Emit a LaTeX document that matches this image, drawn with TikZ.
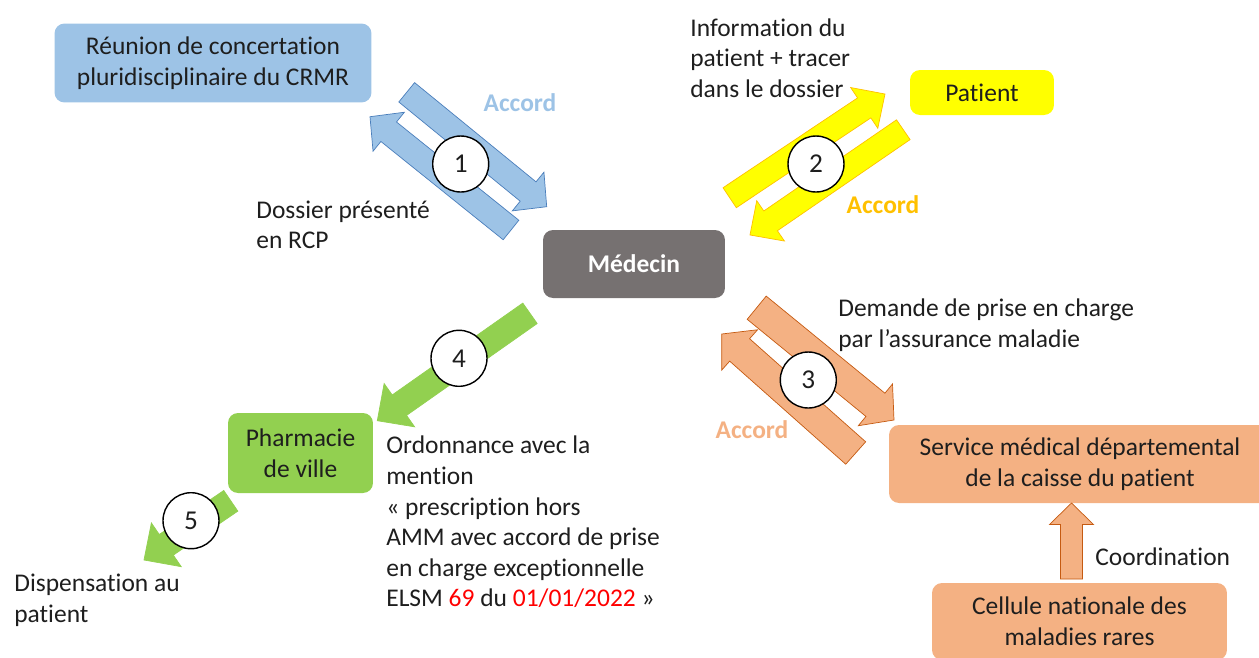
\documentclass[tikz,border=0pt]{standalone}
\usepackage{fontspec}
\setmainfont[Ligatures=NoCommon]{Carlito}
\usepackage{tikz}
\usetikzlibrary{calc,positioning}

\definecolor{bleu}{HTML}{9DC3E6}
\definecolor{bleufonce}{HTML}{4A7EBB}
\definecolor{jaune}{HTML}{FFFF00}
\definecolor{jaunefonce}{HTML}{FFC000}
\definecolor{orange}{HTML}{F4B183}
\definecolor{orangefonce}{HTML}{C55A11}
\definecolor{vert}{HTML}{92D050}
\definecolor{gris}{HTML}{767171}
\definecolor{rouge}{HTML}{FF0000}
\definecolor{texte}{HTML}{1E1E1E}

% block arrow: style, tail, tip, half shaft, half head, head length
\newcommand{\blockarrow}[6]{%
  \coordinate (ta) at #2;
  \coordinate (tp) at #3;
  \coordinate (hb) at ($(tp)!#6!(ta)$);
  \filldraw[#1] ($(ta)!#4!90:(tp)$) -- ($(hb)!#4!-90:(ta)$) -- ($(hb)!#5!-90:(ta)$)
    -- (tp) -- ($(hb)!#5!90:(ta)$) -- ($(hb)!#4!90:(ta)$) -- ($(ta)!#4!-90:(tp)$) -- cycle;
}

\begin{document}
\begin{tikzpicture}[x=0.02cm, y=-0.02cm,
    every node/.style={font=\fontsize{14.5}{17.4}\selectfont, text=texte},
    box/.style={rounded corners=0.2cm, align=center, inner sep=0pt},
    txt/.style={align=left, inner sep=0pt, anchor=west},
    num/.style={circle, draw=black, fill=white, thick, minimum size=1.12cm, inner sep=0pt,
      font=\fontsize{15.5}{18}\selectfont},
    accord/.style={font=\fontsize{14.5}{17.4}\selectfont\bfseries}]
\useasboundingbox (0,0) rectangle (1259,657);

% boxes
\node[box, fill=bleu, minimum width=6.34cm, minimum height=1.58cm] (crmr) at (213,63)
  {Réunion de concertation\\pluridisciplinaire du CRMR};
\node[box, fill=jaune, minimum width=2.88cm, minimum height=0.9cm] (patient) at (982,92.5) {Patient};
\node[box, fill=gris, text=white, font=\fontsize{14.5}{17.4}\selectfont\bfseries,
  minimum width=3.64cm, minimum height=1.36cm] (medecin) at (634,264) {Médecin};
\node[box, fill=vert, minimum width=2.9cm, minimum height=1.6cm] (pharma) at (300.5,453) {Pharmacie\\de ville};
\node[box, fill=orange, minimum width=7.64cm, minimum height=1.56cm] (service) at (1080,464)
  {Service médical départemental\\de la caisse du patient};
\node[box, fill=orange, minimum width=5.9cm, minimum height=1.54cm] (cellule) at (1079.5,621.5)
  {Cellule nationale des\\maladies rares};

% arrows
\blockarrow{fill=bleu, draw=bleufonce, thin}{(406.7,92.3)}{(546.7,206.7)}{0.25cm}{0.5cm}{0.48cm}
\blockarrow{fill=bleu, draw=bleufonce, thin}{(511,230)}{(370,116.7)}{0.25cm}{0.5cm}{0.48cm}
\blockarrow{fill=jaune, draw=jaunefonce, thin}{(729.7,197.7)}{(885,94)}{0.24cm}{0.49cm}{0.5cm}
\blockarrow{fill=jaune, draw=jaunefonce, thin}{(903.3,129.7)}{(750,235)}{0.24cm}{0.49cm}{0.5cm}
\blockarrow{fill=orange, draw=orangefonce, thin}{(756.7,307.7)}{(894,420)}{0.3cm}{0.54cm}{0.48cm}
\blockarrow{fill=orange, draw=orangefonce, thin}{(855.7,453)}{(721.7,334)}{0.3cm}{0.54cm}{0.48cm}
\blockarrow{fill=vert, draw=vert, thin}{(530,313.3)}{(377.3,420.7)}{0.25cm}{0.53cm}{0.54cm}
\blockarrow{fill=vert, draw=vert, thin}{(230.8,500.8)}{(144,560)}{0.25cm}{0.53cm}{0.54cm}
\blockarrow{fill=orange, draw=orangefonce, thin}{(1071.5,579)}{(1071.5,503)}{0.22cm}{0.44cm}{0.43cm}

% numbers
\node[num] (n1) at (460.7,164) {1};
\node[num] (n2) at (816,164) {2};
\node[num] (n3) at (808.3,380) {3};
\node[num] (n4) at (459,358.3) {4};
\node[num] (n5) at (191,520.7) {5};

% labels
\node[accord, text=bleu] (acc1) at (520,103) {Accord};
\node[accord, text=jaunefonce] (acc2) at (883,205) {Accord};
\node[accord, text=orange] (acc3) at (752,430) {Accord};
\node[txt] (info) at (690,58) {Information du\\patient + tracer\\dans le dossier};
\node[txt] (dossier) at (256,225) {Dossier présenté\\en RCP};
\node[txt] (demande) at (838,325) {Demande de prise en charge\\par l’assurance maladie};
\node[txt] (ordo) at (386,522) {Ordonnance avec la\\mention\\« prescription hors\\AMM avec accord de prise\\en charge exceptionnelle\\ELSM \textcolor{rouge}{69} du \textcolor{rouge}{01/01/2022} »};
\node[txt] (dispense) at (14,600) {Dispensation au\\patient};
\node[txt] (coord) at (1095,557) {Coordination};
\end{tikzpicture}
\end{document}
